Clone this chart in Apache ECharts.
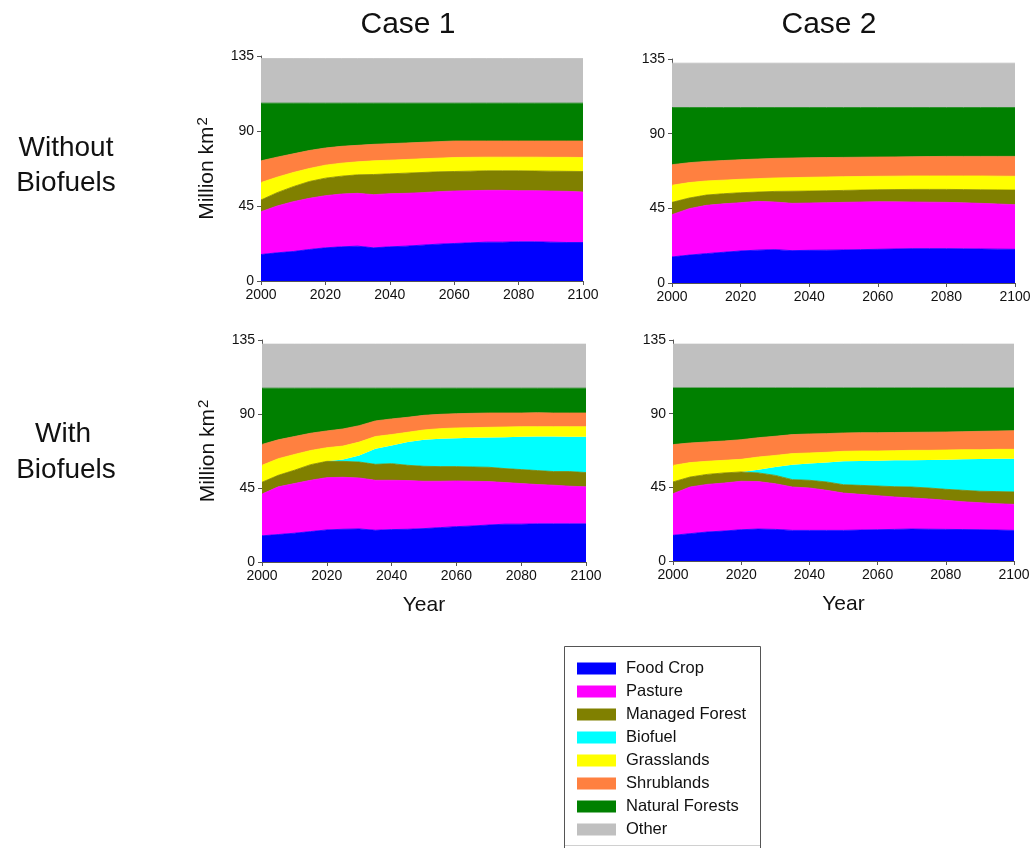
<!DOCTYPE html>
<html>
<head>
<meta charset="utf-8">
<title>Land use by scenario</title>
<script src="https://cdn.jsdelivr.net/npm/echarts@6/dist/echarts.min.js"></script>
<style>
  html, body { margin: 0; padding: 0; background: #ffffff; }
  #chart { width: 1034px; height: 848px; }
</style>
</head>
<body>
<div id="chart"></div>
<script>
// Years on the horizontal axis (every 5 years)
const years = ['2000', '2005', '2010', '2015', '2020', '2025', '2030', '2035', '2040', '2045', '2050',
               '2055', '2060', '2065', '2070', '2075', '2080', '2085', '2090', '2095', '2100'];

const landTypes = ['Food Crop', 'Pasture', 'Managed Forest', 'Biofuel',
                   'Grasslands', 'Shrublands', 'Natural Forests', 'Other'];
const landColors = ['#0000FF', '#FF00FF', '#808000', '#00FFFF',
                    '#FFFF00', '#FF8040', '#008000', '#C0C0C0'];

const yTicks = [0, 45, 90, 135];

// ---- Case 1, without biofuels (million km2) ----
const c1noFood    = [15.9,16.9,17.7,18.9,19.9,20.5,20.9,19.9,20.5,20.9,21.5,22.1,22.5,22.9,23.3,23.3,23.5,23.5,23.3,23.1,23.1];
const c1noPasture = [25.7,28.1,29.9,30.7,31.3,31.7,31.7,31.9,31.9,31.7,31.5,31.5,31.5,31.3,31.1,31.1,30.7,30.7,30.7,30.7,30.3];
const c1noManaged = [7.0,8.0,9.0,10.1,10.5,10.7,11.1,12.1,11.9,12.1,12.1,11.9,11.7,11.7,11.7,11.7,11.9,11.8,11.9,12.0,12.3];
const c1noBiofuel = [0,0,0,0,0,0,0,0,0,0,0,0,0,0,0,0,0,0,0,0,0];
const c1noGrass   = [10.5,9.3,8.5,7.8,7.8,7.8,7.8,8.2,8.2,8.2,8.2,8.2,8.4,8.3,8.2,8.2,8.2,8.3,8.3,8.4,8.4];
const c1noShrub   = [13.0,12.0,11.2,10.8,10.3,10.1,9.9,9.9,9.9,9.9,9.9,9.9,9.9,9.8,9.7,9.7,9.7,9.7,9.8,9.8,9.9];
const c1noNatural = [34.6,32.4,30.4,28.4,26.9,25.9,25.3,24.7,24.3,23.9,23.5,23.1,22.7,22.7,22.7,22.7,22.7,22.7,22.7,22.7,22.7];
const c1noOther   = [26.8,26.8,26.8,26.8,26.8,26.8,26.8,26.8,26.8,26.8,26.8,26.8,26.8,26.8,26.8,26.8,26.8,26.8,26.8,26.8,26.8];

// ---- Case 2, without biofuels ----
const c2noFood    = [15.7,16.8,17.7,18.5,19.3,19.8,20.1,19.5,19.7,19.8,19.9,20.1,20.3,20.5,20.7,20.7,20.7,20.6,20.5,20.4,20.3];
const c2noPasture = [25.5,28.0,29.1,29.2,29.1,29.4,28.7,28.5,28.5,28.6,28.7,28.7,28.7,28.4,28.1,28.0,27.9,27.7,27.5,27.2,26.9];
const c2noManaged = [7.4,6.4,6.2,6.1,6.0,5.6,6.4,7.3,7.2,7.2,7.2,7.2,7.2,7.4,7.6,7.7,7.8,8.0,8.2,8.5,8.8];
const c2noBiofuel = [0,0,0,0,0,0,0,0,0,0,0,0,0,0,0,0,0,0,0,0,0];
const c2noGrass   = [10.3,9.3,8.5,8.2,8.1,8.1,8.1,8.2,8.3,8.3,8.3,8.2,8.1,8.1,8.1,8.1,8.1,8.2,8.3,8.3,8.3];
const c2noShrub   = [12.4,12.0,11.8,11.8,11.8,11.8,11.8,11.8,11.8,11.7,11.6,11.6,11.6,11.6,11.6,11.7,11.8,11.8,11.8,11.9,12.0];
const c2noNatural = [34.4,33.2,32.4,31.9,31.4,31.0,30.6,30.4,30.2,30.1,30.0,29.9,29.8,29.7,29.6,29.5,29.4,29.4,29.4,29.4,29.4];
const c2noOther   = [26.8,26.8,26.8,26.8,26.8,26.8,26.8,26.8,26.8,26.8,26.8,26.8,26.8,26.8,26.8,26.8,26.8,26.8,26.8,26.8,26.8];

// ---- Case 1, with biofuels ----
const c1bioFood    = [15.9,16.7,17.5,18.5,19.5,19.9,20.1,19.3,19.7,19.9,20.3,20.9,21.5,21.9,22.5,23.0,23.0,23.2,23.2,23.2,23.2];
const c1bioPasture = [25.4,29.0,30.2,31.2,31.8,31.6,31.0,30.4,30.0,29.6,28.8,28.2,27.8,27.2,26.4,25.3,24.7,23.9,23.5,22.9,22.5];
const c1bioManaged = [7.2,7.0,8.1,9.5,9.9,9.7,9.7,9.7,10.1,9.3,9.1,8.9,8.7,8.7,8.7,8.5,8.5,8.5,8.3,8.9,8.7];
const c1bioBiofuel = [0,0,0,0,0,1.2,4.0,9.5,11.1,14.1,16.1,16.9,17.3,17.7,18.1,19.1,19.9,20.7,21.3,21.1,21.7];
const c1bioGrass   = [10.3,10.1,9.6,8.6,8.3,8.1,8.1,7.4,6.6,6.0,6.0,6.2,6.2,6.2,6.2,6.2,6.2,6.0,6.0,6.2,6.2];
const c1bioShrub   = [12.7,11.5,10.9,10.5,10.2,10.4,10.0,9.5,9.5,9.1,8.9,8.7,8.7,8.7,8.7,8.5,8.3,8.5,8.3,8.3,8.3];
const c1bioNatural = [34.2,31.4,29.4,27.4,26.0,24.8,22.8,19.9,18.7,17.7,16.5,15.9,15.5,15.3,15.1,15.1,15.1,14.9,15.1,15.1,15.1];
const c1bioOther   = [26.8,26.8,26.8,26.8,26.8,26.8,26.8,26.8,26.8,26.8,26.8,26.8,26.8,26.8,26.8,26.8,26.8,26.8,26.8,26.8,26.8];

// ---- Case 2, with biofuels ----
const c2bioFood    = [15.7,16.7,17.7,18.3,19.1,19.5,19.3,18.7,18.7,18.7,18.7,18.9,19.1,19.3,19.5,19.4,19.3,19.2,19.1,18.9,18.7];
const c2bioPasture = [25.4,28.5,29.1,29.3,29.6,29.0,27.9,26.5,25.9,24.5,22.8,21.8,20.8,19.8,19.0,18.5,17.8,17.0,16.5,16.1,15.9];
const c2bioManaged = [7.2,6.1,6.1,6.2,5.7,5.3,5.1,4.5,4.7,5.1,5.1,5.5,5.9,6.3,6.7,6.7,6.7,7.0,7.0,7.4,7.6];
const c2bioBiofuel = [0,0,0,0,0,2.0,5.1,9.1,10.2,11.8,14.3,14.9,15.5,16.1,16.3,17.1,18.1,18.9,19.7,20.1,20.3];
const c2bioGrass   = [10.1,8.8,8.0,7.7,7.7,7.7,7.1,6.8,6.5,6.3,6.1,6.1,5.9,5.9,6.1,5.9,5.9,5.9,5.7,5.7,5.7];
const c2bioShrub   = [12.7,12.0,11.8,11.8,12.0,11.8,11.7,11.6,11.6,11.4,11.2,11.2,11.2,11.1,11.0,11.1,11.0,11.0,11.2,11.2,11.4];
const c2bioNatural = [34.6,33.6,33.0,32.4,31.6,30.4,29.5,28.5,28.1,27.9,27.5,27.3,27.3,27.2,27.1,27.0,26.9,26.7,26.5,26.3,26.1];
const c2bioOther   = [26.8,26.8,26.8,26.8,26.8,26.8,26.8,26.8,26.8,26.8,26.8,26.8,26.8,26.8,26.8,26.8,26.8,26.8,26.8,26.8,26.8];

const panels = [
  { layers: [c1noFood, c1noPasture, c1noManaged, c1noBiofuel, c1noGrass, c1noShrub, c1noNatural, c1noOther],
    grid: { left: 261, top: 56, width: 322, height: 225 }, yName: true, xName: false },
  { layers: [c2noFood, c2noPasture, c2noManaged, c2noBiofuel, c2noGrass, c2noShrub, c2noNatural, c2noOther],
    grid: { left: 672, top: 59, width: 343, height: 224 }, yName: false, xName: false },
  { layers: [c1bioFood, c1bioPasture, c1bioManaged, c1bioBiofuel, c1bioGrass, c1bioShrub, c1bioNatural, c1bioOther],
    grid: { left: 262, top: 340, width: 324, height: 222 }, yName: true, xName: true },
  { layers: [c2bioFood, c2bioPasture, c2bioManaged, c2bioBiofuel, c2bioGrass, c2bioShrub, c2bioNatural, c2bioOther],
    grid: { left: 673, top: 340, width: 341, height: 221 }, yName: false, xName: true }
];

const FONT = "'Liberation Sans', Arial, sans-serif";
const axisGray = '#555555';

const grids = [], xAxes = [], yAxes = [], series = [];

panels.forEach((p, pi) => {
  grids.push(Object.assign({ containLabel: false }, p.grid));
  xAxes.push({
    type: 'category', gridIndex: pi,
    data: years,
    boundaryGap: false,
    name: p.xName ? 'Year' : '',
    nameLocation: 'middle', nameGap: 33,
    nameTextStyle: { fontFamily: FONT, fontSize: 21, color: '#111' },
    axisLine: { show: true, lineStyle: { color: axisGray, width: 1 } },
    axisTick: { show: true, length: 4, interval: 3, lineStyle: { color: axisGray } },
    axisLabel: { fontFamily: FONT, fontSize: 14, color: '#111', margin: 7, interval: 3 },
    splitLine: { show: false }
  });
  yAxes.push({
    type: 'value', gridIndex: pi,
    min: yTicks[0], max: yTicks[yTicks.length - 1], interval: 45,
    name: p.yName ? '{m|Million km}{s|2}' : '',
    nameLocation: 'middle', nameGap: 43, nameRotate: 90,
    nameTextStyle: {
      fontFamily: FONT, color: '#111',
      rich: {
        m: { fontFamily: FONT, fontSize: 21, color: '#111', verticalAlign: 'bottom' },
        s: { fontFamily: FONT, fontSize: 15, color: '#111', verticalAlign: 'top', padding: [0, 0, 8, 1] }
      }
    },
    axisLine: { show: true, lineStyle: { color: axisGray, width: 1 } },
    axisTick: { show: true, length: 4, lineStyle: { color: axisGray } },
    axisLabel: { fontFamily: FONT, fontSize: 14, color: '#111', margin: 7 },
    splitLine: { show: false }
  });
  p.layers.forEach((vals, li) => {
    const isBio = landTypes[li] === 'Biofuel';
    series.push({
      name: landTypes[li],
      type: 'line',
      xAxisIndex: pi, yAxisIndex: pi,
      stack: 'land' + pi,
      data: vals,
      showSymbol: false, symbol: 'none',
      smooth: false,
      itemStyle: { color: landColors[li] },
      lineStyle: { color: landColors[li], width: isBio ? 0 : 0.8, opacity: isBio ? 0 : 1 },
      areaStyle: { color: landColors[li], opacity: 1 },
      emphasis: { disabled: true },
      silent: true,
      z: 2
    });
  });
});

const textEl = (txt, x, y, size) => ({
  type: 'text', x: x, y: y, silent: true,
  style: { text: txt, font: size + 'px ' + FONT, fill: '#111',
           textAlign: 'center', textVerticalAlign: 'middle' }
});

const chart = echarts.init(document.getElementById('chart'), null, { renderer: 'canvas' });
chart.setOption({
  backgroundColor: '#ffffff',
  animation: false,
  grid: grids,
  xAxis: xAxes,
  yAxis: yAxes,
  series: series,
  legend: {
    orient: 'vertical',
    left: 577, top: 660,
    padding: 0,
    data: landTypes,
    icon: 'rect',
    itemWidth: 39, itemHeight: 12, itemGap: 6,
    selectedMode: false,
    textStyle: { fontFamily: FONT, fontSize: 16.5, color: '#111', padding: [0, 0, 0, 5] }
  },
  graphic: [
    textEl('Case 1', 408, 25, 30),
    textEl('Case 2', 829, 25, 30),
    textEl('Without', 66, 148, 28),
    textEl('Biofuels', 66, 183, 28),
    textEl('With', 63, 434, 28),
    textEl('Biofuels', 66, 470, 28),
    { type: 'polyline', silent: true,
      shape: { points: [[564.5, 850], [564.5, 646.5], [760.5, 646.5], [760.5, 850]] },
      style: { stroke: '#555555', lineWidth: 1, fill: null } },
    { type: 'line', silent: true,
      shape: { x1: 565, y1: 845.5, x2: 760, y2: 845.5 },
      style: { stroke: '#d0d0d0', lineWidth: 1 } }
  ]
});
</script>
</body>
</html>
